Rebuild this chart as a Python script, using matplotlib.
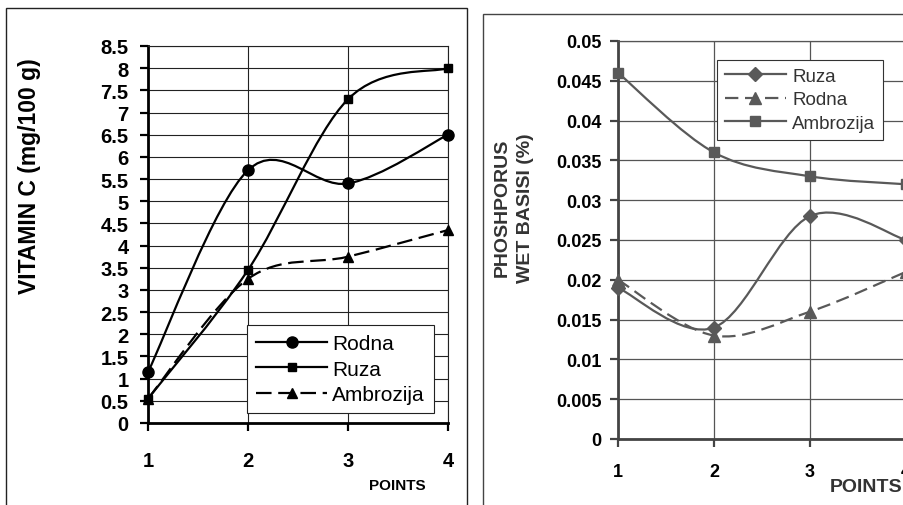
import numpy as np
import matplotlib
matplotlib.use("Agg")
import matplotlib.pyplot as plt
from matplotlib.path import Path
from matplotlib.patches import PathPatch, Rectangle
from matplotlib.lines import Line2D

plt.rcParams['font.family'] = ['Liberation Sans', 'DejaVu Sans']

# ---- data ----
points = [1, 2, 3, 4]

# vitamin C (mg/100 g)
vit_rodna = [1.15, 5.7, 5.4, 6.5]
vit_ruza = [0.55, 3.45, 7.3, 8.0]
vit_ambrozija = [0.55, 3.25, 3.75, 4.35]

# phosphorus, wet basis (%)
p_ruza = [0.019, 0.014, 0.028, 0.025]
p_rodna = [0.020, 0.013, 0.016, 0.021]
p_ambrozija = [0.046, 0.036, 0.033, 0.032]

vit_ticks = np.arange(0, 8.51, 0.5)
p_ticks = np.arange(0, 0.0501, 0.005)


def smooth_path(xs, ys):
    # excel-like smoothed line: bezier segments through the data points
    pts = np.column_stack([xs, ys]).astype(float)
    n = len(pts)
    verts = [pts[0]]
    codes = [Path.MOVETO]
    for i in range(n - 1):
        p0 = pts[i - 1] if i > 0 else pts[i]
        p1, p2 = pts[i], pts[i + 1]
        p3 = pts[i + 2] if i + 2 < n else pts[i + 1]
        c1 = p1 + (p2 - p0) / 6.0
        c2 = p2 - (p3 - p1) / 6.0
        verts += [c1, c2, p2]
        codes += [Path.CURVE4] * 3
    return Path(verts, codes)


def draw_series(ax, xs, ys, color, marker, ms, ls='-', lw=1.6, label=None):
    patch = PathPatch(smooth_path(xs, ys), fill=False, edgecolor=color,
                      lw=lw, linestyle=ls, zorder=3, clip_on=False)
    ax.add_patch(patch)
    ax.plot(xs, ys, linestyle='none', marker=marker, ms=ms, color=color,
            zorder=4, clip_on=False)
    return Line2D([], [], color=color, lw=lw, linestyle=ls, marker=marker, ms=ms)


W, H = 904, 506
fig = plt.figure(figsize=(W / 100, H / 100), dpi=100)

# outer frames of the two charts
fig.add_artist(Rectangle((6 / W, -0.05), (467 - 6) / W, 1.05 - 9 / H,
                         transform=fig.transFigure, fill=False, ec='#222222', lw=1.0))
fig.add_artist(Rectangle((483 / W, -0.05), 0.5, 1.05 - 15 / H,
                         transform=fig.transFigure, fill=False, ec='#444444', lw=1.0))

# ---- left chart: vitamin C ----
ax1 = fig.add_axes([148 / W, (H - 424) / H, 300 / W, 377 / H])
ax1.set_xlim(1, 4)
ax1.set_ylim(0, 8.5)
ax1.set_xticks(points)
ax1.set_yticks(vit_ticks)
ax1.set_yticklabels([f"{v:g}" for v in vit_ticks])
ax1.grid(True, color='#222222', lw=0.8)
ax1.set_axisbelow(True)
for s in ['top', 'right']:
    ax1.spines[s].set_linewidth(0.8)
    ax1.spines[s].set_color('#222222')
for s in ['left', 'bottom']:
    ax1.spines[s].set_linewidth(2.0)
ax1.tick_params(axis='both', direction='out', length=6, width=1.6,
                labelsize=14.5, pad=8)
for lbl in ax1.get_xticklabels() + ax1.get_yticklabels():
    lbl.set_fontweight('bold')
ax1.tick_params(axis='x', pad=14)

h1 = draw_series(ax1, points, vit_rodna, 'black', 'o', 8)
h2 = draw_series(ax1, points, vit_ruza, 'black', 's', 6)
h3 = draw_series(ax1, points, vit_ambrozija, 'black', '^', 7, ls=(0, (7, 3)))
leg1 = ax1.legend([h1, h2, h3], ['Rodna', 'Ruza', 'Ambrozija'],
                  loc='upper left', bbox_to_anchor=(247 / W, 1 - 326 / H),
                  bbox_transform=fig.transFigure, borderaxespad=0,
                  fancybox=False, framealpha=1, edgecolor='#222222',
                  fontsize=15, handlelength=3.4, handletextpad=0.25,
                  labelspacing=0.3, borderpad=0.45)
leg1.get_frame().set_linewidth(0.8)

fig.text(30 / W, 1 - 176 / H, 'VITAMIN C (mg/100 g)', rotation=90,
         ha='center', va='center', fontsize=16.5, fontweight='bold')
fig.text(397 / W, 1 - 486 / H, 'POINTS', ha='center', va='center',
         fontsize=11, fontweight='bold')

# ---- right chart: phosphorus ----
gray = '#595959'
ax2 = fig.add_axes([618 / W, (H - 440) / H, 288 / W, 398 / H])
ax2.set_xlim(1, 4)
ax2.set_ylim(0, 0.05)
ax2.set_xticks(points)
ax2.set_yticks(p_ticks)
ax2.set_yticklabels([f"{v:g}" for v in p_ticks])
ax2.grid(True, color='#555555', lw=0.9)
ax2.set_axisbelow(True)
for s in ['top', 'right']:
    ax2.spines[s].set_linewidth(0.9)
    ax2.spines[s].set_color('#555555')
for s in ['left', 'bottom']:
    ax2.spines[s].set_linewidth(2.0)
    ax2.spines[s].set_color('#444444')
ax2.tick_params(axis='both', direction='out', length=6, width=1.6,
                color='#444444', labelsize=13, pad=6)
ax2.tick_params(axis='x', pad=11)
for lbl in ax2.get_xticklabels() + ax2.get_yticklabels():
    lbl.set_fontweight('bold')

g1 = draw_series(ax2, points, p_ruza, gray, 'D', 7)
g2 = draw_series(ax2, points, p_rodna, gray, '^', 9, ls=(0, (6, 3)))
g3 = draw_series(ax2, points, p_ambrozija, gray, 's', 7)
leg2 = ax2.legend([g1, g2, g3], ['Ruza', 'Rodna', 'Ambrozija'],
                  loc='upper left', bbox_to_anchor=(717 / W, 1 - 61 / H),
                  bbox_transform=fig.transFigure, borderaxespad=0,
                  fancybox=False, framealpha=1, edgecolor='#333333',
                  fontsize=13.5, handlelength=3.3, handletextpad=0.3,
                  labelspacing=0.35, borderpad=0.4)
leg2.get_frame().set_linewidth(0.8)
for t in leg2.get_texts():
    t.set_color('#333333')

fig.text(514 / W, 1 - 208 / H, 'PHOSHPORUS\nWET BASISI (%)', rotation=90,
         ha='center', va='center', fontsize=14, fontweight='bold',
         color='#333333', linespacing=1.45, multialignment='center')
fig.text(866 / W, 1 - 488 / H, 'POINTS', ha='center', va='center',
         fontsize=14, fontweight='bold', color='#333333')

fig.savefig('out.png', dpi=100)
